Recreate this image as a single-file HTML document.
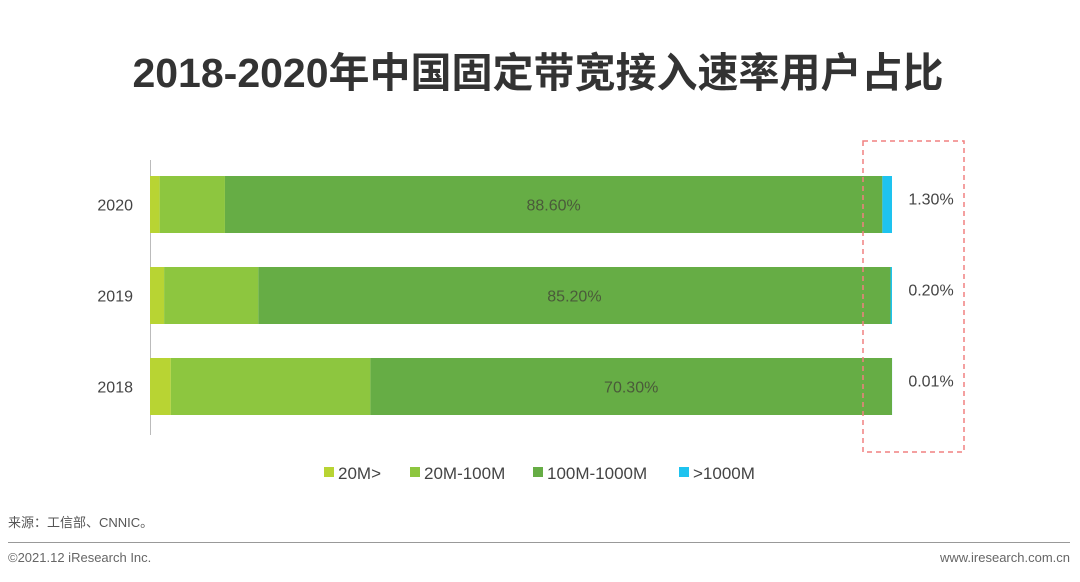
<!DOCTYPE html>
<html><head><meta charset="utf-8">
<style>
body{margin:0;width:1080px;height:577px;background:#fff;overflow:hidden;font-family:"Liberation Sans","Noto Sans CJK SC",sans-serif;}
</style></head>
<body>
<svg id="chart" width="1080" height="577" xmlns="http://www.w3.org/2000/svg">
<text x="538" y="87" text-anchor="middle" font-size="41" font-weight="bold" fill="#333" font-family="Liberation Sans, Noto Sans CJK SC, sans-serif">2018-2020年中国固定带宽接入速率用户占比</text>
<line x1="150.5" y1="160" x2="150.5" y2="435" stroke="#bbb"/>
<g id="bars"></g>
<rect x="863" y="141" width="101" height="311" fill="none" stroke="#f08080" stroke-width="1.5" stroke-dasharray="5,4"/>
<g id="legend"></g>
<text x="8" y="527" font-size="13" fill="#555">来源：工信部、CNNIC。</text>
<line x1="8" y1="542.5" x2="1070" y2="542.5" stroke="#999"/>
<text x="8" y="562" font-size="13" fill="#666">©2021.12 iResearch Inc.</text>
<text x="1070" y="562" font-size="13" fill="#666" text-anchor="end">www.iresearch.com.cn</text>
</svg>
<script>
const years = ['2020','2019','2018'];
const seriesNames = ['20M>','20M-100M','100M-1000M','>1000M'];
const s20 = [1.3, 1.9, 2.8];
const s100 = [8.8, 12.7, 26.9];
const s1000 = [88.6, 85.2, 70.3];
const sOver = [1.3, 0.2, 0.01];
const midLabels = ['88.60%','85.20%','70.30%'];
const sideLabels = ['1.30%','0.20%','0.01%'];
const colors = ['#b8d433','#8dc63f','#66ad45','#1ec3ef'];
const NS='http://www.w3.org/2000/svg';
const x0=150, x1=892;
const xs = v => (v/100)*(x1-x0);
const barTops=[176,267,358], barH=57;
const yPos = i => barTops[i];
const g=document.getElementById('bars');
const series=[s20,s100,s1000,sOver];
years.forEach((yr,i)=>{
  let acc=0;
  const y=yPos(i);
  series.forEach((s,k)=>{
    const r=document.createElementNS(NS,'rect');
    r.setAttribute('x',x0+xs(acc)); r.setAttribute('y',y);
    r.setAttribute('width',Math.max(xs(s[i]),0)); r.setAttribute('height',barH);
    r.setAttribute('fill',colors[k]);
    
    
    g.appendChild(r); acc+=s[i];
  });
  const t=document.createElementNS(NS,'text');
  t.setAttribute('x',133); t.setAttribute('y',y+barH/2+6);
  t.setAttribute('text-anchor','end'); t.setAttribute('font-size','16'); t.setAttribute('fill','#444');
  t.textContent=yr;
  
  
  g.appendChild(t);
  const m=document.createElementNS(NS,'text');
  const mx=x0+xs(s20[i]+s100[i]+s1000[i]/2);
  m.setAttribute('x',mx); m.setAttribute('y',y+barH/2+6);
  m.setAttribute('text-anchor','middle'); m.setAttribute('font-size','16'); m.setAttribute('fill','#4a5a3a');
  m.textContent=midLabels[i];
  
  
  g.appendChild(m);
  const sl=document.createElementNS(NS,'text');
  sl.setAttribute('x',931); sl.setAttribute('y',y+barH/2+0);
  sl.setAttribute('text-anchor','middle'); sl.setAttribute('font-size','16'); sl.setAttribute('fill','#444');
  sl.textContent=sideLabels[i];
  
  
  g.appendChild(sl);
});
const lg=document.getElementById('legend');
const lx=[324,410,533,679];
seriesNames.forEach((n,k)=>{
  const r=document.createElementNS(NS,'rect');
  r.setAttribute('x',lx[k]); r.setAttribute('y',467); r.setAttribute('width',10); r.setAttribute('height',10);
  r.setAttribute('fill',colors[k]);
  
  
  lg.appendChild(r);
  const t=document.createElementNS(NS,'text');
  t.setAttribute('x',lx[k]+14); t.setAttribute('y',479); t.setAttribute('font-size','17'); t.setAttribute('fill','#444');
  t.textContent=n;
  
  
  lg.appendChild(t);
});
</script>
</body></html>
